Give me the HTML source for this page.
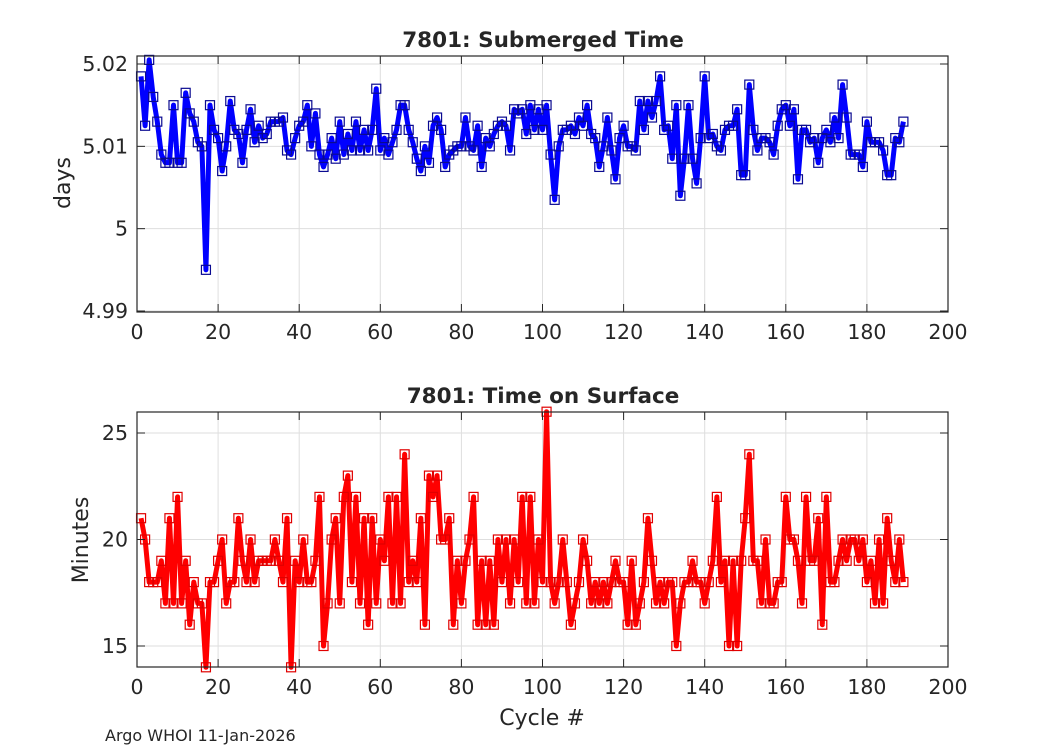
<!DOCTYPE html>
<html><head><meta charset="utf-8"><style>
body{margin:0;background:#fff;}
svg text{font-family:"DejaVu Sans","Liberation Sans",sans-serif;fill:#262626;}
</style></head><body>
<svg id="chart" width="1050" height="750" xmlns="http://www.w3.org/2000/svg">
<rect width="1050" height="750" fill="#fff"/>
<g id="top"></g>
<g id="bot"></g>
<text x="543" y="47" text-anchor="middle" font-size="21.5" font-weight="bold" fill="#000">7801: Submerged Time</text>
<text x="543" y="403" text-anchor="middle" font-size="21.5" font-weight="bold" fill="#000">7801: Time on Surface</text>
<text transform="translate(70,183) rotate(-90)" text-anchor="middle" font-size="22">days</text>
<text transform="translate(88,540) rotate(-90)" text-anchor="middle" font-size="22">Minutes</text>
<text x="542" y="725" text-anchor="middle" font-size="22">Cycle #</text>
<text x="105" y="741" font-size="16" fill="#000">Argo WHOI 11-Jan-2026</text>
</svg>
<script>
const submergedDays=[5.0185,5.0125,5.0205,5.016,5.013,5.009,5.008,5.008,5.015,5.008,5.008,5.0165,5.014,5.013,5.0105,5.010,4.995,5.015,5.012,5.011,5.007,5.010,5.0155,5.012,5.0115,5.008,5.012,5.0145,5.0105,5.0125,5.011,5.0115,5.013,5.013,5.013,5.0135,5.0095,5.009,5.011,5.0125,5.013,5.015,5.010,5.014,5.009,5.0075,5.009,5.011,5.0085,5.013,5.009,5.0115,5.0095,5.013,5.0095,5.012,5.0095,5.012,5.017,5.0095,5.011,5.009,5.0105,5.012,5.015,5.015,5.012,5.0105,5.0085,5.007,5.010,5.008,5.0125,5.0135,5.012,5.0075,5.009,5.0095,5.010,5.010,5.0135,5.010,5.0095,5.0125,5.0075,5.011,5.010,5.0115,5.0125,5.013,5.0125,5.0095,5.0145,5.014,5.0145,5.0115,5.015,5.012,5.0145,5.012,5.015,5.009,5.0035,5.010,5.012,5.012,5.0125,5.0115,5.0135,5.0125,5.015,5.0115,5.011,5.0075,5.010,5.0135,5.0095,5.006,5.011,5.0125,5.010,5.010,5.0095,5.0155,5.012,5.0155,5.0135,5.0155,5.0185,5.012,5.0125,5.0085,5.015,5.004,5.0085,5.015,5.0085,5.0055,5.011,5.0185,5.011,5.0115,5.010,5.0095,5.012,5.0125,5.0125,5.0145,5.0065,5.0065,5.0175,5.012,5.0095,5.011,5.011,5.0105,5.009,5.0125,5.0145,5.015,5.0125,5.0145,5.006,5.012,5.012,5.0105,5.011,5.008,5.011,5.012,5.0105,5.0135,5.011,5.0175,5.0135,5.009,5.009,5.009,5.0075,5.013,5.0105,5.0105,5.0105,5.0095,5.0065,5.0065,5.011,5.0105,5.013];
const surfaceMinutes=[21,20,18,18,18,19,17,21,17,22,17,19,16,18,17,17,14,18,18,19,20,17,18,18,21,19,18,20,18,19,19,19,19,20,19,18,21,14,19,18,20,18,18,19,22,15,17,20,21,17,22,23,18,22,17,21,16,21,17,20,19,22,17,22,17,24,18,19,18,21,16,23,22,23,20,20,21,16,19,17,19,20,22,16,19,16,19,16,20,18,20,17,20,18,22,17,22,17,20,18,26,18,17,18,20,18,16,17,18,20,19,17,18,17,18,17,18,19,18,18,16,19,16,17,18,21,19,17,18,17,18,18,15,17,18,18,19,18,18,17,18,19,22,18,19,15,19,15,19,21,24,19,19,17,20,17,17,18,18,22,20,20,19,17,22,19,19,21,16,22,18,18,19,20,19,20,20,19,20,18,19,17,20,17,21,19,18,20,18];
const xTicks=[0,20,40,60,80,100,120,140,160,180,200];
const topTicks=[4.99,5,5.01,5.02];
const topTickLabels=["4.99","5","5.01","5.02"];
const botTicks=[15,20,25];
const botTickLabels=["15","20","25"];

const NS="http://www.w3.org/2000/svg";
const X0=137,X1=948;
const xs=v=>X0+(v-0)/(200-0)*(X1-X0);
function mk(p,t,a){const e=document.createElementNS(NS,t);for(const k in a)e.setAttribute(k,a[k]);p.appendChild(e);return e;}

function panel(g,top,bottom,ys,ticks,labels,vals,color,edge){
  mk(g,'rect',{x:X0,y:top,width:X1-X0,height:bottom-top,fill:'#fff'});
  xTicks.forEach(t=>{const l=mk(g,'line',{x1:xs(t),x2:xs(t),y1:top,y2:bottom,stroke:'#dedede','stroke-width':1});
    
    });
  ticks.forEach(t=>{const l=mk(g,'line',{x1:X0,x2:X1,y1:ys(t),y2:ys(t),stroke:'#dedede','stroke-width':1});
    
    });
  const pts=vals.map((v,i)=>xs(i+1)+','+ys(v)).join(' ');
  const pl=mk(g,'polyline',{points:pts,fill:'none',stroke:color,'stroke-width':5,'stroke-linejoin':'round'});
  
  
  vals.forEach((v,i)=>{const r=mk(g,'rect',{x:xs(i+1)-4.5,y:ys(v)-4.5,width:9,height:9,fill:'none',stroke:edge,'stroke-width':1.2});
    
    });
  mk(g,'rect',{x:X0,y:top,width:X1-X0,height:bottom-top,fill:'none',stroke:'#262626','stroke-width':1.2});
  xTicks.forEach(t=>{mk(g,'line',{x1:xs(t),x2:xs(t),y1:bottom,y2:bottom-8,stroke:'#262626'});
    mk(g,'line',{x1:xs(t),x2:xs(t),y1:top,y2:top+8,stroke:'#262626'});
    const tx=mk(g,'text',{x:xs(t),y:bottom+27,'text-anchor':'middle','font-size':20.5});tx.textContent=t;
    
    });
  ticks.forEach((t,i)=>{mk(g,'line',{x1:X0,x2:X0+8,y1:ys(t),y2:ys(t),stroke:'#262626'});
    mk(g,'line',{x1:X1,x2:X1-8,y1:ys(t),y2:ys(t),stroke:'#262626'});
    const tx=mk(g,'text',{x:X0-9,y:ys(t)+7,'text-anchor':'end','font-size':20.5});tx.textContent=labels[i];
    
    });
}
const ysTop=v=>311-(v-4.99)*8233;
const ysBot=v=>646-(v-15)*21.3;
panel(document.getElementById('top'),56,312,ysTop,topTicks,topTickLabels,submergedDays,'#0000ff','#0a0a90');
panel(document.getElementById('bot'),412,667,ysBot,botTicks,botTickLabels,surfaceMinutes,'#ff0000','#e00000');
</script>
</body></html>
